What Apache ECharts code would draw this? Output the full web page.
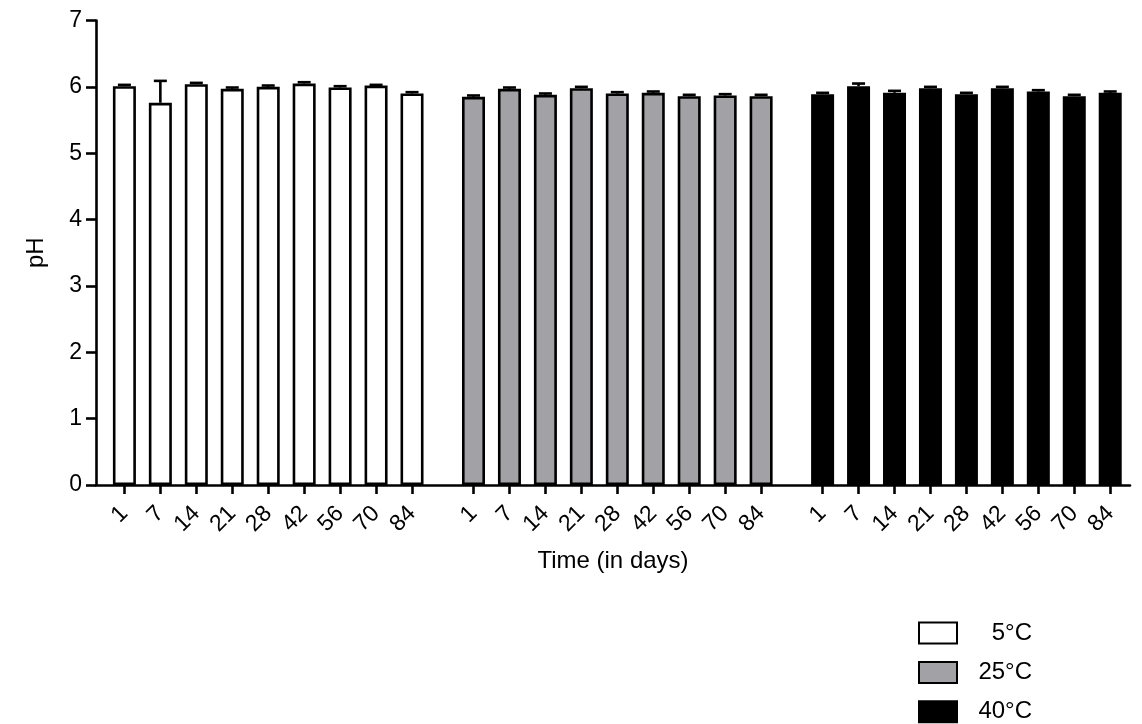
<!DOCTYPE html>
<html><head><meta charset="utf-8">
<script src="https://cdn.jsdelivr.net/npm/echarts@6/dist/echarts.min.js"></script>
<style>html,body{margin:0;padding:0;background:#fff}#c{width:1142px;height:724px}</style>
</head><body><div id="c"></div>
<script>
// ---- data ----
const days = ['1','7','14','21','28','42','56','70','84'];
const temps = ['5°C','25°C','40°C'];
const ph5  = [6.01,5.76,6.04,5.97,6.00,6.05,5.99,6.02,5.90];
const err5 = [0.02,0.33,0.02,0.02,0.02,0.02,0.02,0.01,0.02];
const ph25  = [5.85,5.97,5.88,5.98,5.90,5.91,5.86,5.87,5.86];
const err25 = [0.02,0.02,0.02,0.02,0.02,0.02,0.02,0.02,0.02];
const ph40  = [5.89,6.01,5.91,5.98,5.89,5.98,5.93,5.86,5.91];
const err40 = [0.02,0.04,0.03,0.02,0.02,0.02,0.02,0.02,0.02];
const yTicks = [0,1,2,3,4,5,6,7];

// ---- layout / style ----
const FONT = '"Liberation Sans", Arial, sans-serif';
const GAP = 0.71;               // extra space between groups (in slots)
const fills = ['#ffffff','#a2a1a6','#000000'];
const means = [ph5, ph25, ph40];
const errs = [err5, err25, err40];
const pos = (g, i) => g * (days.length + GAP) + i;

const tickPositions = [];
const tickLabels = {};
for (let g = 0; g < temps.length; g++) {
  for (let i = 0; i < days.length; i++) {
    const p = +pos(g, i).toFixed(4);
    tickPositions.push(p);
    tickLabels[p.toFixed(4)] = days[i];
  }
}
const lastPos = pos(temps.length - 1, days.length - 1);

const barSeries = temps.map((t, g) => ({
  type: 'bar',
  name: t,
  barWidth: 23,
  barGap: '-100%',
  data: means[g].map((v, i) => [pos(g, i), v]),
  itemStyle: { color: fills[g], borderColor: '#000', borderWidth: 2.6 },
  emphasis: { disabled: true },
  z: 2
}));

const errData = [];
for (let g = 0; g < temps.length; g++) {
  for (let i = 0; i < days.length; i++) errData.push([pos(g, i), means[g][i], errs[g][i]]);
}
const errSeries = {
  type: 'custom',
  name: 'err',
  data: errData,
  z: 5,
  silent: true,
  renderItem: function (params, api) {
    const x = api.value(0), m = api.value(1), e = api.value(2);
    const base = api.coord([x, m]);
    const top = api.coord([x, m + e]);
    const half = 6.5;
    const st = { stroke: '#000', lineWidth: 2.6 };
    return {
      type: 'group',
      children: [
        { type: 'line', shape: { x1: base[0], y1: base[1], x2: top[0], y2: top[1] }, style: st },
        { type: 'line', shape: { x1: top[0] - half, y1: top[1], x2: top[0] + half, y2: top[1] }, style: st }
      ]
    };
  }
};

const chart = echarts.init(document.getElementById('c'), null, { renderer: 'canvas' });
chart.setOption({
  animation: false,
  backgroundColor: '#fff',
  textStyle: { fontFamily: FONT, color: '#000' },
  grid: { left: 96, right: 12, top: 20.5, bottom: 239, containLabel: false },
  legend: {
    data: temps,
    orient: 'vertical',
    left: 918,
    top: 621,
    height: 110,
    padding: 0,
    icon: 'rect',
    itemWidth: 38,
    itemHeight: 21,
    itemGap: 15.4,
    selectedMode: false,
    formatter: n => '{t|' + n + '}',
    textStyle: {
      rich: { t: { width: 70, align: 'right', fontSize: 24, lineHeight: 21, fontFamily: FONT, color: '#000' } }
    }
  },
  xAxis: {
    type: 'value',
    min: -0.79,
    max: +(lastPos + 0.55).toFixed(2),
    name: 'Time (in days)',
    nameLocation: 'middle',
    nameGap: 64,
    nameTextStyle: { fontSize: 24, color: '#000', fontFamily: FONT },
    axisLine: { show: true, onZero: false, lineStyle: { color: '#000', width: 2.6 } },
    axisTick: { show: true, length: 9, lineStyle: { color: '#000', width: 2.6 }, customValues: tickPositions },
    axisLabel: {
      customValues: tickPositions,
      rotate: 45,
      margin: 25,
      fontSize: 23,
      color: '#000',
      fontFamily: FONT,
      formatter: v => tickLabels[(+v).toFixed(4)] || ''
    },
    splitLine: { show: false }
  },
  yAxis: {
    type: 'value',
    min: yTicks[0],
    max: yTicks[yTicks.length - 1],
    interval: 1,
    name: 'pH',
    nameLocation: 'middle',
    nameGap: 48,
    nameTextStyle: { fontSize: 24, color: '#000', fontFamily: FONT },
    axisLine: { show: true, onZero: false, lineStyle: { color: '#000', width: 2.6 } },
    axisTick: { show: true, length: 10, lineStyle: { color: '#000', width: 2.6 } },
    axisLabel: { margin: 14, fontSize: 23, color: '#000', fontFamily: FONT },
    splitLine: { show: false }
  },
  series: [...barSeries, errSeries]
});
</script>
</body></html>
